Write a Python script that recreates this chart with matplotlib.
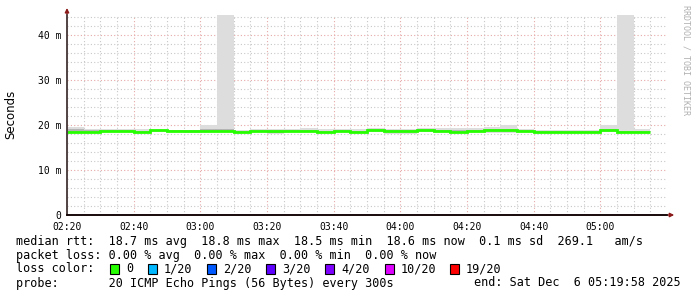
import matplotlib
matplotlib.use("Agg")
import matplotlib.pyplot as plt
from matplotlib.patches import Rectangle

# ── data (milliseconds, one value per 5-minute step starting 02:20) ─────
start_min = 140          # 02:20 in minutes after midnight
step_min = 5
end_min = 319.97         # 05:19:58

median_ms = [18.45, 18.45, 18.7, 18.7, 18.45, 18.8, 18.7, 18.7, 18.75, 18.75,
             18.45, 18.7, 18.7, 18.7, 18.7, 18.45, 18.7, 18.45, 18.85, 18.75,
             18.75, 18.85, 18.75, 18.55, 18.75, 18.8, 18.8, 18.7, 18.5, 18.5,
             18.5, 18.5, 18.85, 18.5, 18.55]
smoke_hi_ms = [19.5, 19.1, 19.0, 19.0, 19.1, 19.0, 18.9, 18.9, 20.0, 44.4,
               18.9, 19.0, 19.0, 19.0, 19.4, 19.1, 19.0, 19.0, 19.3, 19.0,
               19.0, 19.4, 19.3, 19.3, 19.35, 19.6, 20.0, 19.0, 18.8, 18.8,
               18.8, 18.8, 19.9, 44.4, 19.1]
smoke_lo_ms = [18.15, 18.15, 18.4, 18.4, 18.2, 18.5, 18.4, 18.2, 18.4, 18.4,
               18.2, 18.4, 17.9, 18.4, 18.4, 18.2, 18.4, 18.2, 18.5, 17.9,
               18.0, 18.5, 18.4, 18.2, 18.4, 18.3, 18.3, 18.4, 18.3, 18.3,
               18.3, 18.3, 18.5, 18.3, 18.3]
inner_hi_ms = [19.0, 18.8, 18.85, 18.85, 18.75, 18.95, 18.85, 18.85, 19.0, 19.0,
               18.6, 18.85, 18.85, 18.85, 18.95, 18.7, 18.85, 18.75, 19.05, 18.85,
               18.85, 19.05, 18.95, 18.85, 18.95, 19.0, 19.05, 18.85, 18.6, 18.6,
               18.6, 18.6, 19.05, 18.7, 18.75]
inner_lo_ms = [18.25, 18.25, 18.5, 18.5, 18.25, 18.6, 18.5, 18.35, 18.55, 18.55,
               18.25, 18.5, 18.3, 18.5, 18.5, 18.25, 18.5, 18.25, 18.65, 18.4,
               18.4, 18.65, 18.55, 18.35, 18.55, 18.6, 18.6, 18.5, 18.35, 18.35,
               18.35, 18.35, 18.65, 18.35, 18.35]

x_ticks = [140, 160, 180, 200, 220, 240, 260, 280, 300]
x_labels = ["02:20", "02:40", "03:00", "03:20", "03:40", "04:00", "04:20", "04:40", "05:00"]
y_ticks = [0, 10, 20, 30, 40]
y_labels = ["0", "10 m", "20 m", "30 m", "40 m"]

loss_labels = ["0", "1/20", "2/20", "3/20", "4/20", "10/20", "19/20"]
loss_colors = ["#26ff00", "#00b8ff", "#0059ff", "#5e00ff", "#7e00ff", "#dd00ff", "#ff0000"]
loss_box_px = [110, 148, 207, 266, 325, 385, 450]

legend_rows = [
    "median rtt:  18.7 ms avg  18.8 ms max  18.5 ms min  18.6 ms now  0.1 ms sd  269.1   am/s",
    "packet loss: 0.00 % avg  0.00 % max  0.00 % min  0.00 % now",
    "loss color:",
    "probe:       20 ICMP Echo Pings (56 Bytes) every 300s",
]
end_text = "end: Sat Dec  6 05:19:58 2025"

# ── figure ────────────────────────────────────────────────────────────
W, H = 697, 297
MONO = "DejaVu Sans Mono"
fig = plt.figure(figsize=(W / 100, H / 100), dpi=100)
fig.patch.set_facecolor("white")
ax = fig.add_axes([67 / W, (H - 215) / H, 600 / W, 200 / H])

edges = [start_min + i * step_min for i in range(len(median_ms) + 1)]
ax.stairs(smoke_hi_ms, edges, baseline=smoke_lo_ms, fill=True,
          color="#dddddd", lw=0, zorder=2)
ax.stairs(inner_hi_ms, edges, baseline=inner_lo_ms, fill=True,
          color="#b4b4b4", lw=0, zorder=2)
ax.stairs(median_ms, edges, baseline=None, color="#26ff00", lw=2.0, zorder=3)

ax.set_xlim(start_min - 0.03, end_min)
ax.set_ylim(0, 44.44)

ax.set_xticks(x_ticks)
ax.set_xticklabels(x_labels, family=MONO, fontsize=7)
ax.set_xticks(range(145, 320, 5), minor=True)
ax.set_yticks(y_ticks)
ax.set_yticklabels(y_labels, family=MONO, fontsize=7)
ax.set_yticks(range(2, 45, 2), minor=True)
ax.tick_params(which="both", length=0, pad=4)
ax.tick_params(axis="x", pad=5)

dots = (0, (1, 2))
ax.grid(which="minor", color="#c8c8c8", lw=0.8, ls=dots, zorder=1)
ax.grid(which="major", color="#e6a8a8", lw=0.8, ls=dots, zorder=1)

for s in ax.spines.values():
    s.set_visible(False)

# axes with arrows
ax.annotate("", xy=(0, 1.035), xytext=(0, 0), xycoords="axes fraction",
            arrowprops=dict(arrowstyle="-|>", color="#8b1a1a", lw=1.0,
                            mutation_scale=6, shrinkA=0, shrinkB=0), zorder=4)
ax.plot([0, 0], [0, 1.0], transform=ax.transAxes, color="#444444", lw=1.2,
        clip_on=False, zorder=4)
ax.annotate("", xy=(1.012, 0), xytext=(0, 0), xycoords="axes fraction",
            arrowprops=dict(arrowstyle="-|>", color="#8b1a1a", lw=1.0,
                            mutation_scale=6, shrinkA=0, shrinkB=0), zorder=4)
ax.plot([0, 1.0], [0, 0], transform=ax.transAxes, color="#000000", lw=1.2,
        clip_on=False, zorder=4)

fig.text(11 / W, 1 - 114 / H, "Seconds", rotation=90, fontsize=8.5,
         family="DejaVu Sans", ha="center", va="center")
fig.text(686 / W, 1 - 5 / H, "RRDTOOL / TOBI OETIKER", rotation=270,
         fontsize=6.0, family=MONO, color="#b0b0b0", ha="center", va="top")

# ── legend block ──────────────────────────────────────────────────────
row_y = [241, 255, 269, 283]
for txt, y in zip(legend_rows, row_y):
    fig.text(16 / W, 1 - y / H, txt, family=MONO, fontsize=8.5,
             ha="left", va="center")
fig.text(681 / W, 1 - row_y[3] / H, end_text, family=MONO, fontsize=8.5,
         ha="right", va="center")

for px, col, lab in zip(loss_box_px, loss_colors, loss_labels):
    fig.patches.append(Rectangle((px / W, 1 - (row_y[2] + 5) / H), 9 / W, 10 / H,
                                 transform=fig.transFigure, facecolor=col,
                                 edgecolor="black", lw=0.8))
    fig.text((px + 16) / W, 1 - row_y[2] / H, lab, family=MONO, fontsize=8.5,
             ha="left", va="center")

fig.savefig("out.png", dpi=100)
